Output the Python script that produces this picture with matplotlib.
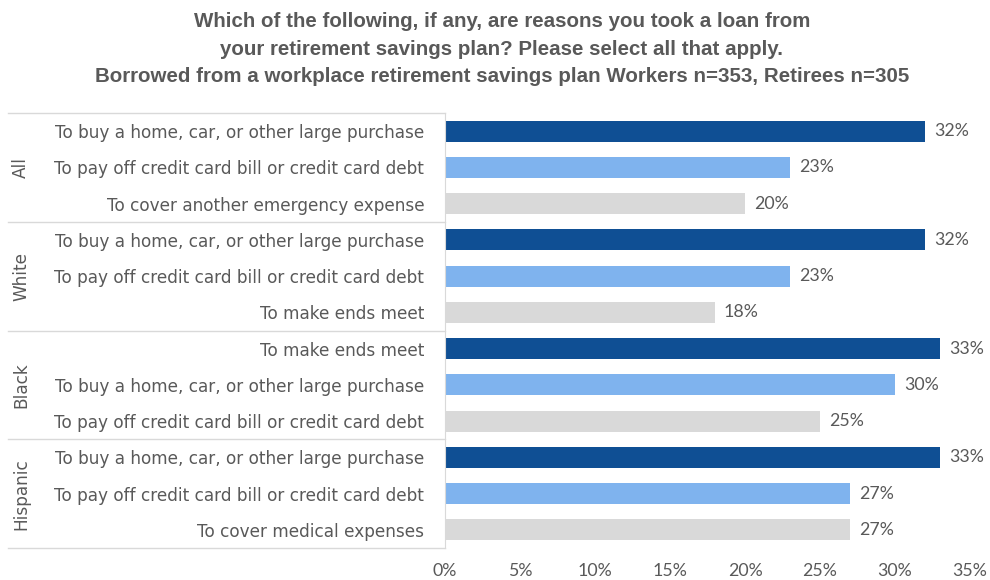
import matplotlib
matplotlib.use("Agg")
import matplotlib.pyplot as plt
import matplotlib.transforms as mtransforms

groups = ["All", "White", "Black", "Hispanic"]
labels = [
    "To buy a home, car, or other large purchase",
    "To pay off credit card bill or credit card debt",
    "To cover another emergency expense",
    "To buy a home, car, or other large purchase",
    "To pay off credit card bill or credit card debt",
    "To make ends meet",
    "To make ends meet",
    "To buy a home, car, or other large purchase",
    "To pay off credit card bill or credit card debt",
    "To buy a home, car, or other large purchase",
    "To pay off credit card bill or credit card debt",
    "To cover medical expenses",
]
values = [32, 23, 20, 32, 23, 18, 33, 30, 25, 33, 27, 27]
xticks = [0, 5, 10, 15, 20, 25, 30, 35]
title = ("Which of the following, if any, are reasons you took a loan from\n"
         "your retirement savings plan? Please select all that apply.\n"
         "Borrowed from a workplace retirement savings plan Workers n=353, Retirees n=305")

colors_cycle = ["#0F4F94", "#7FB3EE", "#D9D9D9"]
txt = "#595959"
lab_font = "DejaVu Sans"
num_font = "Lato"

fig = plt.figure(figsize=(9.9, 5.8), dpi=100)
ax = fig.add_axes([445/990, 1-548/580, (970-445)/990, (548-113)/580])

ypos = list(range(len(values)))
cols = [colors_cycle[i % 3] for i in ypos]
ax.barh(ypos, values, height=0.58, color=cols)
ax.set_ylim(len(values)-0.5, -0.5)
ax.set_xlim(0, 35)
ax.set_yticks(ypos)
ax.set_yticklabels(labels, fontsize=12.2, color=txt, family=lab_font)
ax.set_xticks(xticks)
ax.set_xticklabels([f"{t}%" for t in xticks], fontsize=12.8, color=txt, family=num_font)
ax.tick_params(axis="both", length=0)
ax.tick_params(axis="y", pad=15)
ax.tick_params(axis="x", pad=11)
for s in ["top", "right", "bottom"]:
    ax.spines[s].set_visible(False)
ax.spines["left"].set_color("#D9D9D9")

for y, v in zip(ypos, values):
    ax.text(v + 0.6, y, f"{v}%", va="center", ha="left", fontsize=12.8, color=txt, family=num_font)

# group separators and labels
trans = mtransforms.blended_transform_factory(fig.transFigure, ax.transData)
for k in range(len(groups) + 1):
    yb = k * 3 - 0.5
    ax.plot([8/990, 445/990], [yb, yb], transform=trans, color="#D9D9D9", lw=1, clip_on=False)
for k, g in enumerate(groups):
    ax.text(21/990, k * 3 + 1, g, transform=trans, rotation=90, va="center", ha="center",
            fontsize=12.2, color=txt, family=lab_font)

fig.suptitle(title, x=0.507, y=0.979, fontsize=14.8, fontweight="bold", color=txt,
             family="Liberation Sans", linespacing=1.57, va="top")

fig.savefig("out.png", dpi=100, facecolor="white")
